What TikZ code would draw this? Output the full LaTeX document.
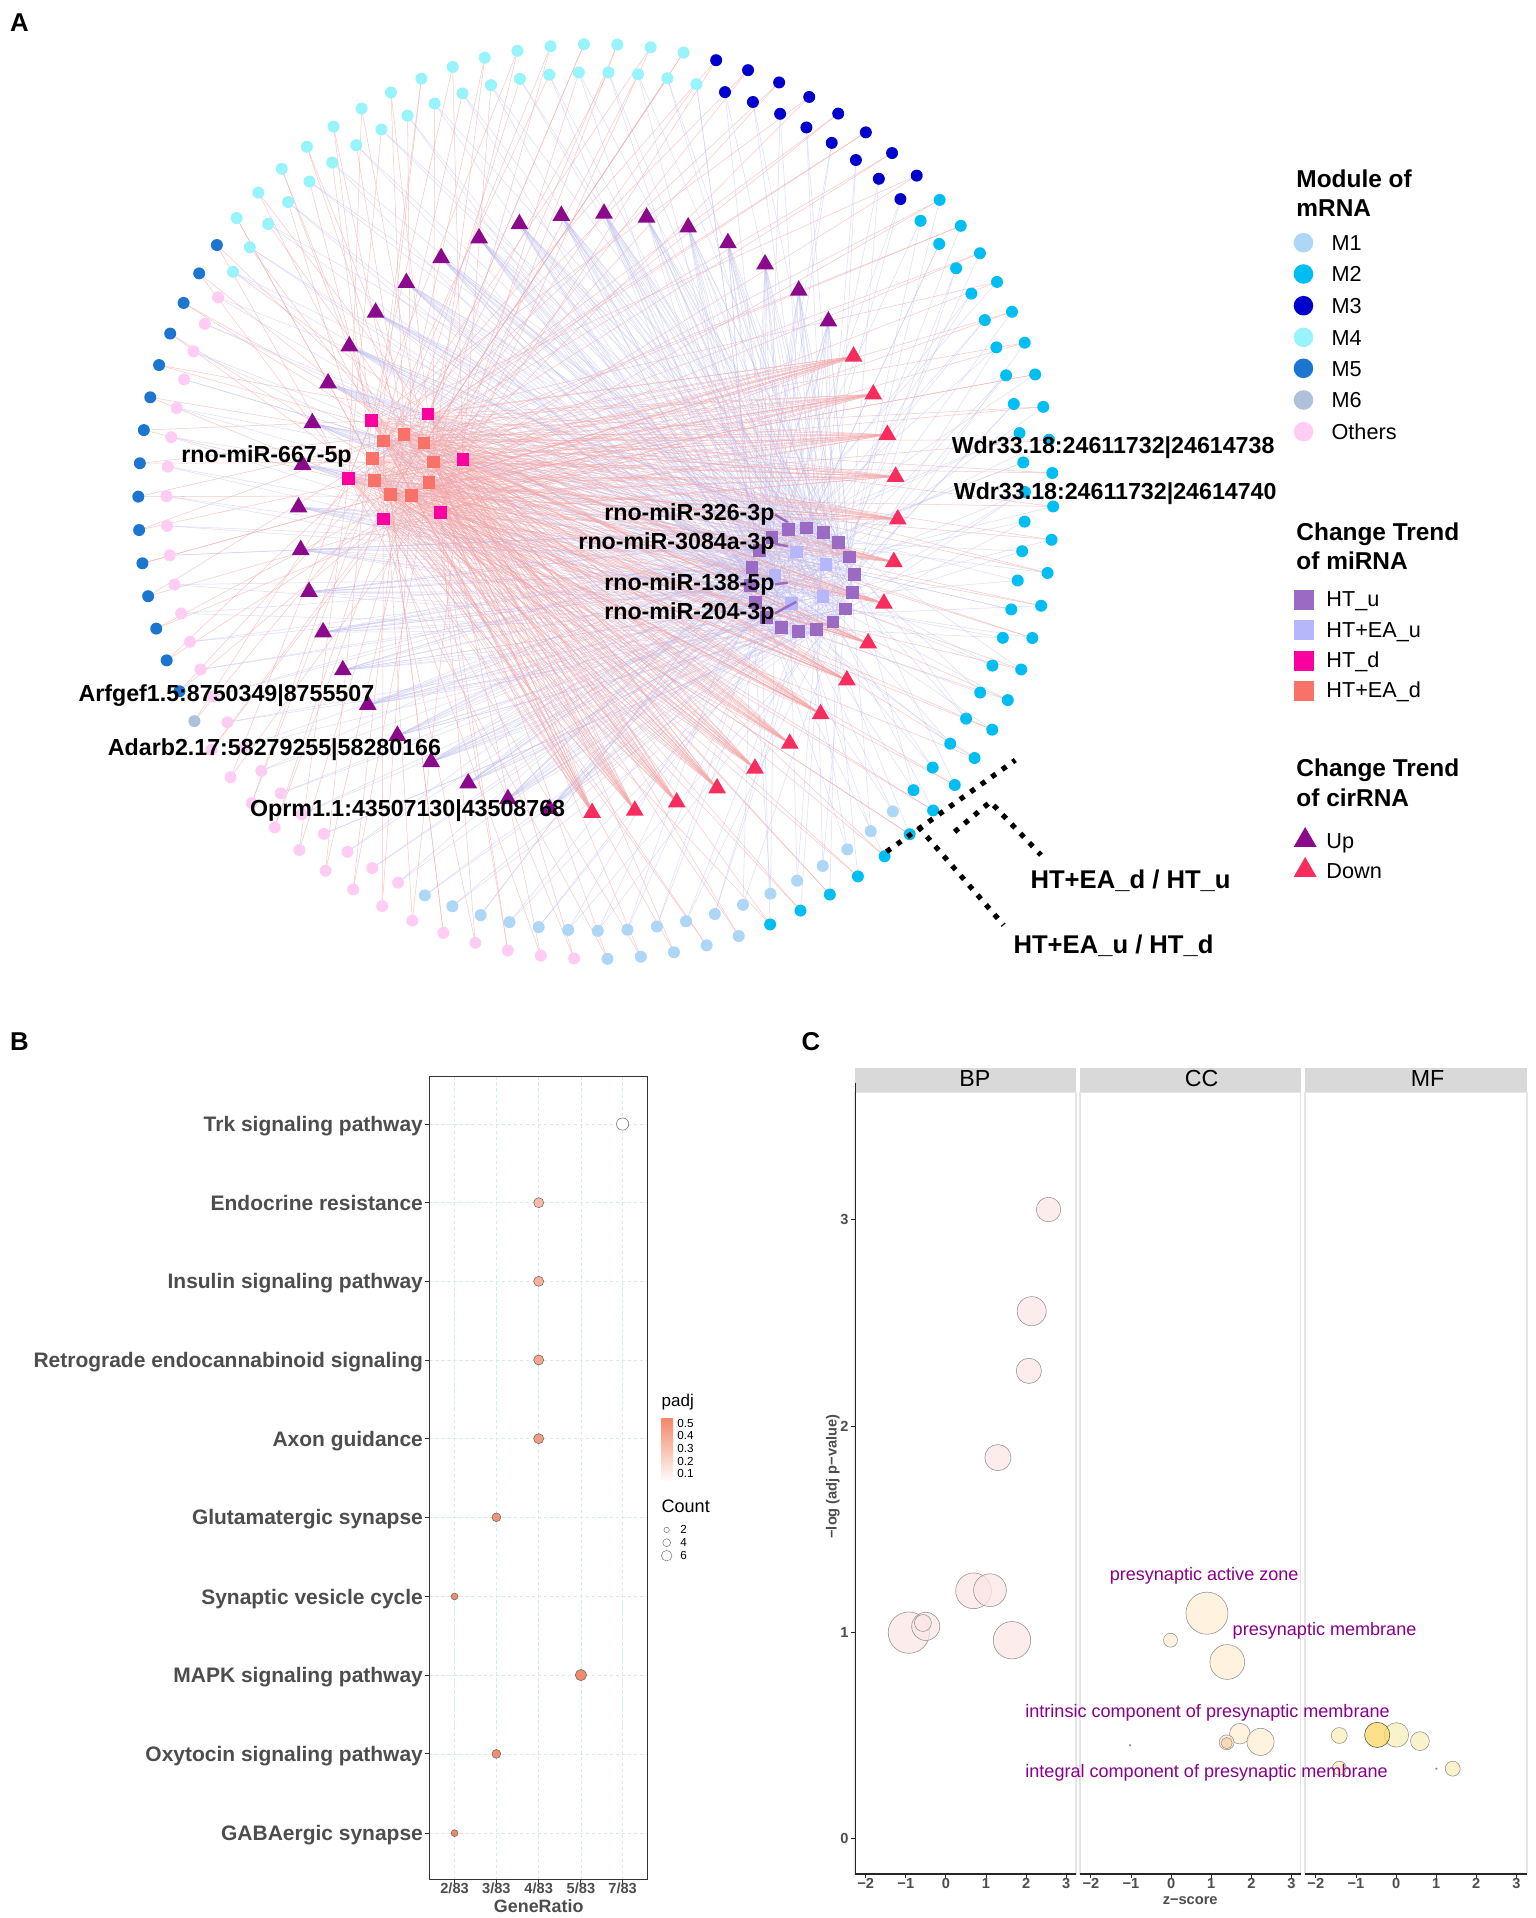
\documentclass[tikz,border=0pt]{standalone}
\usepackage{fontspec}
\setmainfont{Liberation Sans}
\usetikzlibrary{shapes.geometric}
\pgfdeclarelayer{bg}
\pgfdeclarelayer{edges}
\pgfsetlayers{bg,edges,main}
\definecolor{cM1}{HTML}{ADD6F7}
\definecolor{cM2}{HTML}{00BEF2}
\definecolor{cM3}{HTML}{0000CD}
\definecolor{cM4}{HTML}{98F4FB}
\definecolor{cM5}{HTML}{1C75CF}
\definecolor{cM6}{HTML}{ADC2DA}
\definecolor{cOth}{HTML}{FFCDF4}
\definecolor{cHTu}{HTML}{9B6BC3}
\definecolor{cHTEAu}{HTML}{B6B6FA}
\definecolor{cHTd}{HTML}{FA00A0}
\definecolor{cHTEAd}{HTML}{F8726A}
\definecolor{cUp}{HTML}{8B0A8B}
\definecolor{cDown}{HTML}{F72D5E}
\definecolor{cPE}{HTML}{F4A4A4}
\definecolor{cLE}{HTML}{BDBDF0}
\definecolor{cTxt}{HTML}{4D4D4D}
\definecolor{cGrid}{HTML}{D3ECEC}
\definecolor{cPadj}{HTML}{F4886B}
\definecolor{cLab}{HTML}{8B008B}
\definecolor{cStrip}{HTML}{D9D9D9}
\definecolor{cBP}{HTML}{FCE6E6}
\definecolor{cCC}{HTML}{FFEFD5}
\definecolor{cMF}{HTML}{F7F0BC}
\tikzset{
  dot/.style={circle,inner sep=0pt,minimum size=2.45mm},
  sq/.style={rectangle,inner sep=0pt,minimum size=2.6mm},
  tri/.style={regular polygon,regular polygon sides=3,inner sep=0pt,minimum size=4.2mm},
  pe/.style={draw=cPE,line width=0.3pt,draw opacity=0.6},
  le/.style={draw=cLE,line width=0.3pt,draw opacity=0.5},
  leader/.style={draw=cHTu,line width=1.4pt},
  dotln/.style={draw=black,line width=3pt,dash pattern=on 3pt off 4.5pt},
  netlab/.style={inner sep=0pt,font=\fontsize{13.5}{15}\selectfont\bfseries},
  biglab/.style={inner sep=0pt,font=\fontsize{14.9}{17}\selectfont\bfseries},
  legtitle/.style={inner sep=0pt,font=\fontsize{14.2}{16}\selectfont\bfseries},
  legitem/.style={inner sep=0pt,font=\fontsize{12.6}{14}\selectfont},
  letter/.style={inner sep=0pt,font=\fontsize{15}{17}\selectfont\bfseries},
  catlab/.style={inner sep=0pt,text=cTxt,font=\fontsize{12.2}{14}\selectfont\bfseries},
  ticklab/.style={inner sep=0pt,text=cTxt,font=\fontsize{8.5}{10}\selectfont\bfseries},
  axtitle/.style={inner sep=0pt,text=cTxt,font=\fontsize{10.4}{12}\selectfont\bfseries},
  smalltxt/.style={inner sep=0pt,font=\fontsize{6.8}{8}\selectfont},
  grid/.style={draw=cGrid,line width=0.4pt,dash pattern=on 2pt off 1.5pt},
  bub/.style={circle,inner sep=0pt,draw=black!45,line width=0.3pt,fill opacity=0.75},
  golab/.style={inner sep=0pt,text=cLab,font=\fontsize{10.5}{12}\selectfont},
  striplab/.style={inner sep=0pt,font=\fontsize{13.5}{15}\selectfont},
}
\begin{document}
\begin{tikzpicture}[x=0.25mm,y=-0.25mm]
\begin{pgfonlayer}{bg}
\fill[white] (0,0) rectangle (1255,1568);
\end{pgfonlayer}
\useasboundingbox (0,0) rectangle (1255,1568);

% ================= Panel A =================
\node[letter,anchor=base west] (pA) at (8,26) {A};

% left miRNA cluster
\foreach \x/\y/\c [count=\n from 0] in {303.5/344/cHTd, 350/338.5/cHTd, 378.4/375.5/cHTd, 285.1/391.1/cHTd, 313.5/424.3/cHTd, 359.9/418.9/cHTd, 313.5/360.6/cHTEAd, 330.3/355.1/cHTEAd, 346.7/362.2/cHTEAd, 304.3/375/cHTEAd, 354.3/377.7/cHTEAd, 306.3/392.7/cHTEAd, 350.7/394.6/cHTEAd, 319.1/404.5/cHTEAd, 336.3/405.3/cHTEAd}
  \node[sq,fill=\c] (l\n) at (\x,\y) {};

% right miRNA cluster
\foreach \n in {0,...,17}{
  \pgfmathsetmacro\ang{105.9-20*\n}
  \node[sq,fill=cHTu] (r\n) at ({656+42.5*cos(\ang)},{474-42.5*sin(\ang)}) {};
}
\foreach \x/\y [count=\n from 18] in {651/451.3, 675.3/461.4, 633.6/470.4, 672.9/487.9, 647.3/493.3}
  \node[sq,fill=cHTEAu] (r\n) at (\x,\y) {};

% outer mRNA ring
\foreach \k in {0,...,85}{
  \pgfmathsetmacro\ang{145.9+\k*4.186}
  \ifnum\k<15 \def\col{cM5}\else\ifnum\k<16 \def\col{cM6}\else\ifnum\k<30 \def\col{cOth}\else\ifnum\k<35 \def\col{cM1}\else\ifnum\k<62 \def\col{cM2}\else\ifnum\k<70 \def\col{cM3}\else\def\col{cM4}\fi\fi\fi\fi\fi\fi
  \node[dot,fill=\col] (o\k) at ({487+374*cos(\ang)},{410-374*sin(\ang)}) {};
}
% inner mRNA ring
\foreach \k in {0,...,90}{
  \pgfmathsetmacro\ang{151.6+\k*3.956}
  \ifnum\k<24 \def\col{cOth}\else\ifnum\k<42 \def\col{cM1}\else\ifnum\k<64 \def\col{cM2}\else\ifnum\k<72 \def\col{cM3}\else\def\col{cM4}\fi\fi\fi\fi
  \node[dot,fill=\col] (i\k) at ({487+351*cos(\ang)},{410-351*sin(\ang)}) {};
}
% circRNA triangles
\foreach \k in {0,...,43}{
  \pgfmathsetmacro\ang{39.8+\k*8.18}
  \ifnum\k<28 \def\col{cUp}\else\def\col{cDown}\fi
  \node[tri,fill=\col] (t\k) at ({489+245*cos(\ang)},{419.5-245*sin(\ang)}) {};
}

% edges
\begin{pgfonlayer}{edges}
\foreach \k in {0,...,85}{
  \pgfmathtruncatemacro\j{mod(\k*7+3,15)}
  \pgfmathtruncatemacro\jj{mod(\k*11+8,15)}
  \draw[pe] (o\k.center) -- (l\j.center);
  \draw[pe] (o\k.center) -- (l\jj.center);
}
\foreach \k in {35,...,61}{
  \pgfmathtruncatemacro\j{mod(\k*5+2,23)}
  \draw[le] (o\k.center) -- (r\j.center);
}
\foreach \k in {0,...,90}{
  \pgfmathtruncatemacro\j{mod(\k*5+1,23)}
  \pgfmathtruncatemacro\jj{mod(\k*9+12,23)}
  \draw[le] (i\k.center) -- (r\j.center);
  \draw[le] (i\k.center) -- (r\jj.center);
}
\foreach \k in {72,...,90}{
  \pgfmathtruncatemacro\j{mod(\k*4+1,15)}
  \draw[pe] (i\k.center) -- (l\j.center);
}
\foreach \k in {0,...,27}{
  \foreach \m in {0,...,9}{
    \pgfmathtruncatemacro\j{mod(\k*3+\m*2,23)}
    \draw[le] (t\k.center) -- (r\j.center);
  }
}
\foreach \k in {28,...,43}{
  \foreach \m in {0,...,14}{
    \draw[pe] (t\k.center) -- (l\m.center);
  }
}
\end{pgfonlayer}

% labels
\node[netlab,anchor=base west] (lab667) at (148,378) {rno-miR-667-5p};
\node[netlab,anchor=base west] (labArf) at (64,573.7) {Arfgef1.5:8750349|8755507};
\node[netlab,anchor=base west] (labAda) at (88,617.3) {Adarb2.17:58279255|58280166};
\node[netlab,anchor=base west] (labOpr) at (204.2,667.7) {Oprm1.1:43507130|43508768};
\node[netlab,anchor=base west] (labW1) at (777.8,370.6) {Wdr33.18:24611732|24614738};
\node[netlab,anchor=base west] (labW2) at (779.5,408) {Wdr33.18:24611732|24614740};
\node[netlab,anchor=base east] (lab326) at (633.5,425.5) {rno-miR-326-3p};
\node[netlab,anchor=base east] (lab3084) at (633.5,449.5) {rno-miR-3084a-3p};
\node[netlab,anchor=base east] (lab138) at (633.5,482.4) {rno-miR-138-5p};
\node[netlab,anchor=base east] (lab204) at (633.5,506.3) {rno-miR-204-3p};
\coordinate (k326) at (644,427);
\coordinate (k3084) at (644,446.5);
\coordinate (k138) at (644,476.5);
\coordinate (k204) at (651,492);
\draw[leader] (lab326.east) -- (k326);
\draw[leader] (lab3084.east) -- (k3084);
\draw[leader] (lab138.east) -- (k138);
\draw[leader] (lab204.east) -- (k204);

% dotted group markers
\coordinate (d1a) at (724.7,696.3);
\coordinate (d1b) at (830,621.4);
\coordinate (d2a) at (780.4,680);
\coordinate (d2b) at (809.6,655.5);
\coordinate (d2c) at (851,699);
\coordinate (d3a) at (750.8,675.9);
\coordinate (d3b) at (820.5,756.3);
\draw[dotln] (d1a) -- (d1b);
\draw[dotln] (d2a) -- (d2b) -- (d2c);
\draw[dotln] (d3a) -- (d3b);
\node[biglab,anchor=base west] (labG1) at (842.2,726.3) {HT+EA\_d / HT\_u};
\node[biglab,anchor=base west] (labG2) at (828.3,779.4) {HT+EA\_u / HT\_d};

% legend A
\node[legtitle,anchor=base west] (lgT1a) at (1059.6,153) {Module of};
\node[legtitle,anchor=base west] (lgT1b) at (1059.6,176.7) {mRNA};
\foreach \y/\c/\t [count=\n] in {198.4/cM1/M1, 224/cM2/M2, 249.9/cM3/M3, 275.8/cM4/M4, 301.1/cM5/M5, 327/cM6/M6, 352.9/cOth/Others}{
  \node[circle,inner sep=0pt,minimum size=4mm,fill=\c] (lgc\n) at (1065.6,\y) {};
  \node[legitem,anchor=base west] (lgt\n) at (1088.3,{\y+6.4}) {\t};
}
\node[legtitle,anchor=base west] (lgT2a) at (1059.6,441.5) {Change Trend};
\node[legtitle,anchor=base west] (lgT2b) at (1059.6,465.4) {of miRNA};
\foreach \y/\c/\t [count=\n] in {490.6/cHTu/HT\_u, 515.4/cHTEAu/HT+EA\_u, 540.2/cHTd/HT\_d, 564.7/cHTEAd/HT+EA\_d}{
  \node[rectangle,inner sep=0pt,minimum size=4.1mm,fill=\c] (lgs\n) at (1066.2,\y) {};
  \node[legitem,anchor=base west] (lgst\n) at (1084.1,{\y+5.5}) {\t};
}
\node[legtitle,anchor=base west] (lgT3a) at (1059.6,635) {Change Trend};
\node[legtitle,anchor=base west] (lgT3b) at (1059.6,659.5) {of cirRNA};
\node[regular polygon,regular polygon sides=3,inner sep=0pt,minimum size=5.4mm,fill=cUp] (lgtu) at (1067,686.9) {};
\node[regular polygon,regular polygon sides=3,inner sep=0pt,minimum size=5.4mm,fill=cDown] (lgtd) at (1067,711.4) {};
\node[legitem,anchor=base west] (lgtut) at (1084.1,693.8) {Up};
\node[legitem,anchor=base west] (lgtdt) at (1084.1,718.4) {Down};

% ================= Panel B =================
\node[letter,anchor=base west] (pB) at (8,859) {B};
\foreach \x in {371.6,405.8,440.4,474.9,509}
  \draw[grid] (\x,880) -- (\x,1536.6);
\foreach \y in {918.9,983.2,1047.5,1111.8,1176.1,1240.4,1305.1,1369.4,1433.8,1498.6}
  \draw[grid] (351,\y) -- (529.3,\y);
\draw[draw=black!80,line width=0.6pt] (351,880) rectangle (529.3,1536.6);
\foreach \y/\t/\x/\r/\c [count=\n] in {
  918.9/Trk signaling pathway/509/5/FFFFFF,
  983.2/Endocrine resistance/440.4/4.1/F8BBA7,
  1047.5/Insulin signaling pathway/440.4/4.1/F6B09C,
  1111.8/Retrograde endocannabinoid signaling/440.4/4.1/F4A690,
  1176.1/Axon guidance/440.4/4.1/F29C84,
  1240.4/Glutamatergic synapse/405.8/3.6/F09478,
  1305.1/Synaptic vesicle cycle/371.6/2.8/EF8C6E,
  1369.4/MAPK signaling pathway/474.9/4.6/EF8A6C,
  1433.8/Oxytocin signaling pathway/405.8/3.6/EF8E70,
  1498.6/GABAergic synapse/371.6/2.8/EE8668}{
  \definecolor{ptc}{HTML}{\c}
  \draw[black!80,line width=0.5pt] (347.5,\y) -- (351,\y);
  \node[catlab,anchor=base east] (cat\n) at (346,{\y+6.2}) {\t};
  \node[circle,inner sep=0pt,minimum size={\r*0.5mm},fill=ptc,draw=black!60,line width=0.3pt] (pt\n) at (\x,\y) {};
}
\foreach \x/\t [count=\n] in {371.6/2\slash 83,405.8/3\slash 83,440.4/4\slash 83,474.9/5\slash 83,509/7\slash 83}{
  \draw[black!80,line width=0.5pt] (\x,1536.6) -- (\x,1540);
  \node[ticklab,anchor=base] (gx\n) at (\x,1548.3) {\t};
}
\node[axtitle,anchor=base] (gxT) at (440.4,1563.3) {GeneRatio};
\node[inner sep=0pt,anchor=base west,font=\fontsize{9.9}{11}\selectfont] (padjT) at (540.6,1149.5) {padj};
\shade[bottom color=white,top color=cPadj] (540.6,1160) rectangle (550.3,1211.6);
\foreach \y/\t [count=\n] in {1163.9/0.5,1173.7/0.4,1184.1/0.3,1194.4/0.2,1204.7/0.1}
  \node[smalltxt,anchor=west] (cb\n) at (553.5,\y) {\t};
\node[inner sep=0pt,anchor=base west,font=\fontsize{10.5}{12}\selectfont] (cntT) at (540.6,1236.5) {Count};
\foreach \y/\r/\t [count=\n] in {1250.7/2.2/2,1261.2/3.2/4,1271.8/4.3/6}{
  \node[circle,inner sep=0pt,minimum size={\r*0.5mm},draw=black!55,line width=0.3pt] (cc\n) at (545,\y) {};
  \node[smalltxt,anchor=west] (cct\n) at (556,\y) {\t};
}

% ================= Panel C =================
\node[letter,anchor=base west] (pC) at (655,859) {C};
\foreach \a/\b/\s/\lx [count=\p] in {699/879.7/BP/797, 883/1063.4/CC/982.3, 1067/1248.2/MF/1167.1}{
  \fill[cStrip] (\a,873.5) rectangle (\b,893);
  \node[striplab,anchor=base] (strip\p) at (\lx,888.5) {\s};
  \draw[black!10,line width=0.8pt] (\a,893) rectangle (\b,1532);
  \draw[black!85,line width=0.6pt] (\a,1532) -- (\b,1532);
}
\draw[black!85,line width=0.6pt] (699,885) -- (699,1532);
\foreach \v/\y in {0/1502.7,1/1334.3,2/1165.8,3/996.8}{
  \draw[black!85,line width=0.5pt] (695.5,\y) -- (699,\y);
  \node[ticklab,anchor=east] (cy\v) at (694,\y) {\v};
}
\foreach \z [count=\p] in {773.3,957.4,1141.3}{
  \foreach \v/\s in {-2/−2,-1/−1,0/0,1/1,2/2,3/3}{
    \pgfmathtruncatemacro\vi{\v+2}
    \draw[black!85,line width=0.5pt] ({\z+32.8*\v},1532) -- ({\z+32.8*\v},1535.5);
    \node[ticklab,anchor=base] (cx\p\vi) at ({\z+32.8*\v},1543.8) {\s};
  }
}
\node[ticklab,anchor=base] (czT) at (973,1557) {z−score};
\node[ticklab,rotate=90,anchor=center] (cyT) at (680.9,1207) {−log (adj p−value)};

% bubbles
\foreach \x/\y/\r [count=\n] in {857.2/988.8/10, 843.4/1071.9/11.9, 841.1/1120.7/10.3, 815.8/1191.6/10.7, 795.9/1300.5/14.6, 809.3/1300/13.4, 743/1334.7/16.9, 756.8/1329.6/11.5, 754.5/1326.8/6.9, 827.3/1340.9/15.3}
  \node[bub,fill=cBP,minimum size={\r*0.5mm}] (bp\n) at (\x,\y) {};
\foreach \x/\y/\r [count=\n] in {986.7/1318.8/17.2, 956.9/1340.9/5.7, 1003.3/1358.7/14.2, 1013.6/1417.3/8.4, 1002.8/1424.4/6.1, 1030.5/1424/11.1}
  \node[bub,fill=cCC,minimum size={\r*0.5mm}] (cc\n) at (\x,\y) {};
\node[bub,fill=orange!35,minimum size=2.3mm] (cc7) at (1002.8,1425) {};
\node[circle,inner sep=0pt,fill=black!45,minimum size=0.5mm] (cc8) at (923.9,1426.7) {};
\foreach \x/\y/\r [count=\n] in {1094.9/1418.8/6.5, 1141.6/1418.3/10, 1160.8/1423.4/7.7, 1094.9/1445.5/5.7, 1187.6/1445.9/6.1}
  \node[bub,fill=cMF,minimum size={\r*0.5mm}] (mf\n) at (\x,\y) {};
\node[bub,fill=yellow!55!orange!60,draw=black!70,minimum size=5.15mm] (mf6) at (1125.9,1418.3) {};
\node[circle,inner sep=0pt,fill=black!45,minimum size=0.5mm] (mf7) at (1174.2,1445.9) {};

\node[golab,anchor=base west] (go1) at (907,1292.3) {presynaptic active zone};
\node[golab,anchor=base west] (go2) at (1007.5,1336.8) {presynaptic membrane};
\node[golab,anchor=base west] (go3) at (838,1403.9) {intrinsic component of presynaptic membrane};
\node[golab,anchor=base west] (go4) at (838,1453.2) {integral component of presynaptic membrane};
\end{tikzpicture}
\end{document}
